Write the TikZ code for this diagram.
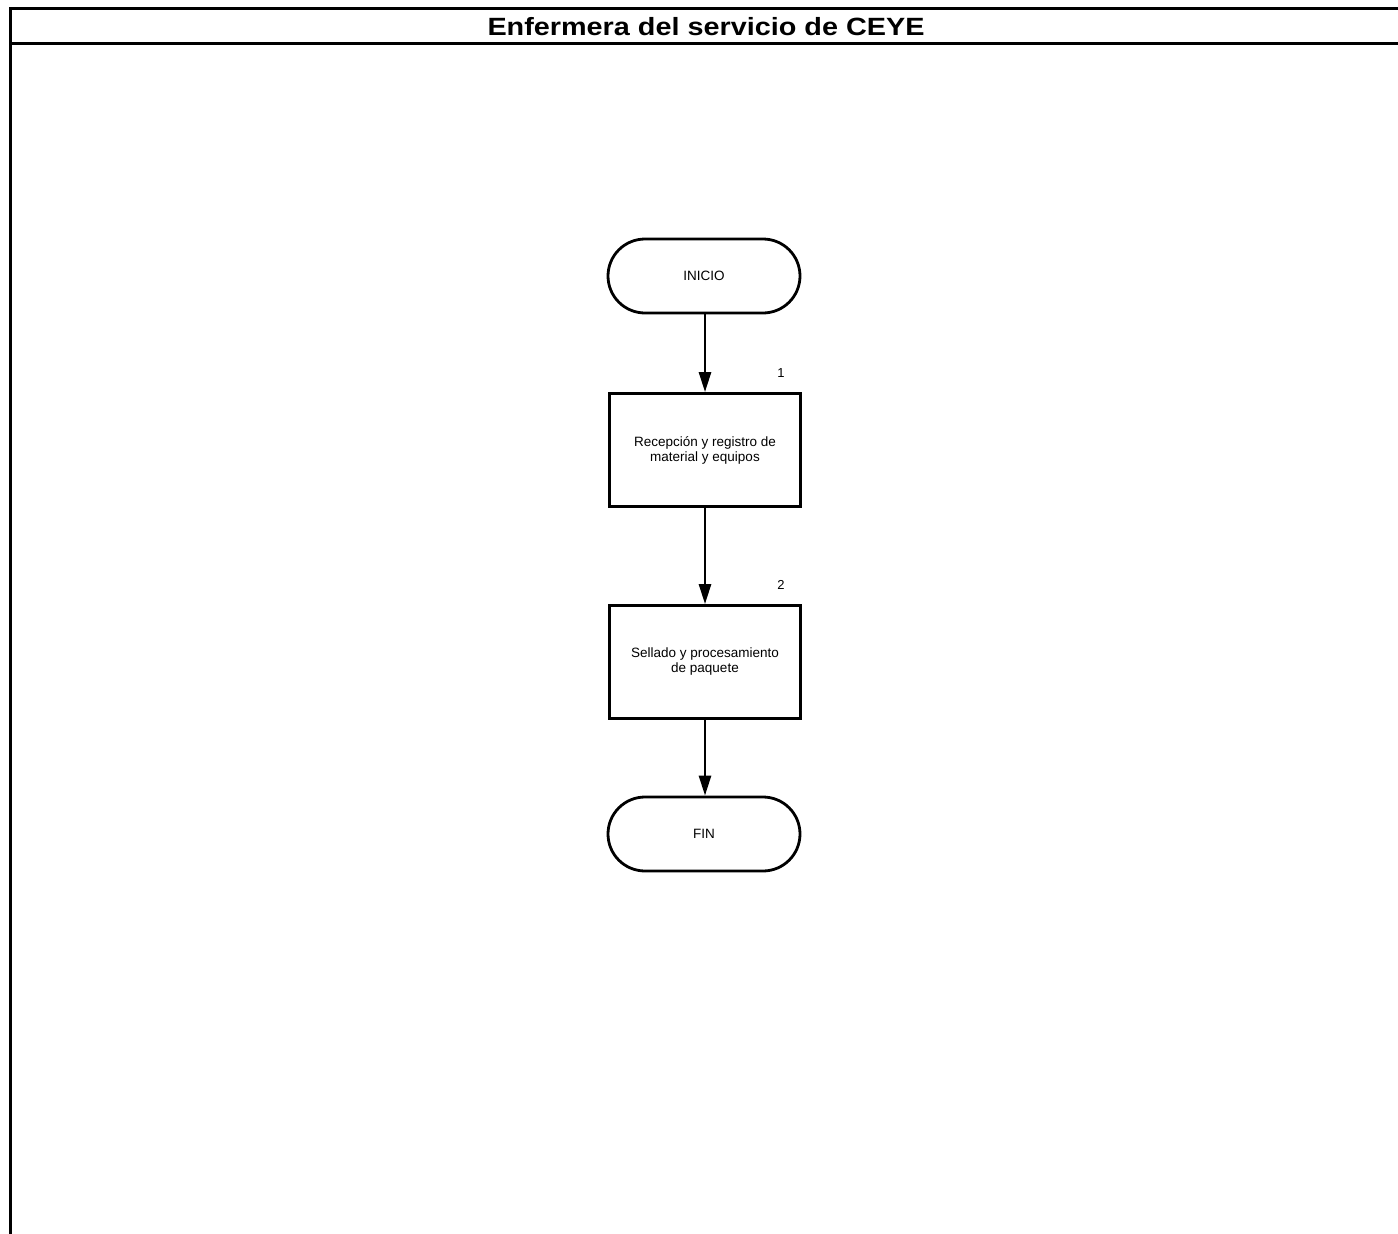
\documentclass[tikz,border=0pt]{standalone}
\usepackage{fontspec}
\setmainfont{Liberation Sans}
\usetikzlibrary{arrows.meta,shapes.misc}
\begin{document}
\begin{tikzpicture}[x=1pt,y=-1pt,
  border/.style={line width=3pt},
  term/.style={draw,line width=2.8pt,rounded rectangle,minimum width=192pt,minimum height=74pt,inner sep=0pt,font=\fontsize{13.5}{15}\selectfont},
  proc/.style={draw,line width=2.8pt,rectangle,minimum width=191pt,minimum height=113pt,inner sep=0pt,align=center,font=\fontsize{13.5}{15}\selectfont},
  flow/.style={line width=2.6pt,-{Triangle[length=20pt,width=12pt]}},
  num/.style={font=\fontsize{13}{15}\selectfont,inner sep=0pt}
]
\useasboundingbox[fill=white] (0,0) rectangle (1398,1234);
% lane frame
\coordinate (tl) at (10.5,8.8);
\coordinate (tr) at (1398,8.8);
\coordinate (hl) at (10.5,43.8);
\coordinate (hr) at (1398,43.8);
\coordinate (bl) at (10.5,1234);
\draw[border] (tr) -- (tl) -- (bl);
\draw[border] (hl) -- (hr);
\node[inner sep=0pt] (title) at (706,26.5) {\scalebox{1.2}[1.04]{\fontsize{24}{28}\selectfont\bfseries Enfermera del servicio de CEYE}};
% nodes
\node[term] (inicio) at (704,276) {\raisebox{-2pt}{INICIO}};
\node[proc] (p1) at (705,450) {Recepción y registro de\\material y equipos};
\node[num] (n1) at (781,373) {1};
\node[proc] (p2) at (705,662) {Sellado y procesamiento\\de paquete};
\node[num] (n2) at (781,585) {2};
\node[term] (fin) at (704,834) {FIN};
% connectors
\draw[flow] (inicio.south -| p1.north) -- (p1.north);
\draw[flow] (p1.south) -- (p2.north);
\draw[flow] (p2.south) -- (p2.south |- fin.north);
\end{tikzpicture}
\end{document}
